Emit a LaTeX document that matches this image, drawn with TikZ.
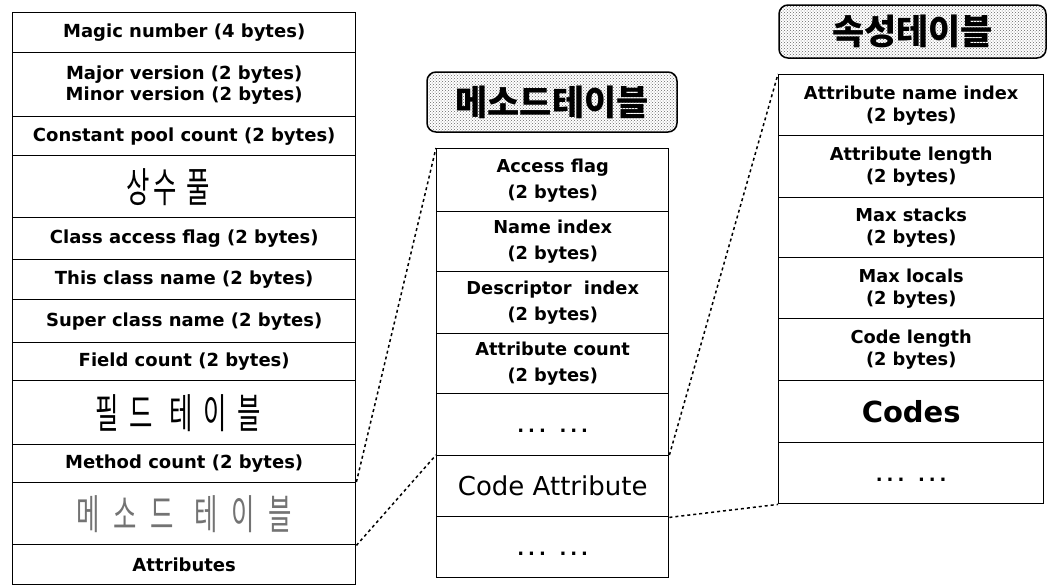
\documentclass[tikz,border=0pt]{standalone}
\usepackage{fontspec}
\setmainfont{DejaVu Sans}
\newfontfamily\kofont[FakeStretch=0.62,LetterSpace=8]{Noto Sans CJK KR}
\newfontfamily\kowide[FakeStretch=0.62,LetterSpace=26]{Noto Sans CJK KR}
\newfontfamily\kowider[FakeStretch=0.62,LetterSpace=34]{Noto Sans CJK KR}
\newfontfamily\kotitle{Noto Sans CJK KR}
\newfontfamily\dotsfont[LetterSpace=22]{DejaVu Sans}
\usetikzlibrary{patterns}

\tikzset{
  cell/.style={draw=black, line width=1.4pt, anchor=north west, inner sep=0pt,
    align=center, font=\fontsize{18}{21}\selectfont\bfseries},
  leftcell/.style={cell, minimum width=343pt},
  midcell/.style={cell, minimum width=232pt, font=\fontsize{17.8}{26}\selectfont\bfseries},
  rightcell/.style={cell, minimum width=265pt, font=\fontsize{17.8}{22}\selectfont\bfseries},
  korow/.style={font=\kowide\fontsize{41}{44}\selectfont},
  dotrow/.style={font=\dotsfont\bfseries\fontsize{18}{20}\selectfont,
    text height=16pt, text depth=0pt},
  titlebox/.style={draw=black, line width=1.5pt, rounded corners=9pt,
    pattern=crosshatch dots, pattern color=black!60, inner sep=0pt,
    font=\kotitle\bfseries\fontsize{35}{38}\selectfont},
  zoomline/.style={line width=1.5pt, dash pattern=on 3pt off 3pt},
}

\begin{document}
\begin{tikzpicture}[x=1pt,y=-1pt]
\useasboundingbox (0,0) rectangle (1049,587);

% class file layout
\node[leftcell, minimum height=40pt] (l1) at (12,12) {Magic number (4 bytes)};
\node[leftcell, minimum height=64pt] (l2) at (12,52) {Major version (2 bytes)\\Minor version (2 bytes)};
\node[leftcell, minimum height=39pt] (l3) at (12,116) {Constant pool count (2 bytes)};
\node[leftcell, minimum height=62pt, font=\kofont\fontsize{41}{44}\selectfont] (l4) at (12,155) {상수 풀\hspace*{32pt}};
\node[leftcell, minimum height=42pt] (l5) at (12,217) {Class access flag (2 bytes)};
\node[leftcell, minimum height=40pt] (l6) at (12,259) {This class name (2 bytes)};
\node[leftcell, minimum height=43pt] (l7) at (12,299) {Super class name (2 bytes)};
\node[leftcell, minimum height=38pt] (l8) at (12,342) {Field count (2 bytes)};
\node[leftcell, minimum height=64pt, korow] (l9) at (12,380) {필드 테이블\hspace*{12pt}};
\node[leftcell, minimum height=38pt] (l10) at (12,444) {Method count (2 bytes)};
\node[leftcell, minimum height=62pt, font=\kowider\fontsize{41}{44}\selectfont, text=black!55] (l11) at (12,482) {메소드 테이블};
\node[leftcell, minimum height=40pt] (l12) at (12,544) {Attributes};

% method table
\node[titlebox, minimum width=250pt, minimum height=60pt] (mt) at (552,102) {메소드테이블};
\node[midcell, minimum height=63pt] (m1) at (436,148) {Access flag\\(2 bytes)};
\node[midcell, minimum height=60pt] (m2) at (436,211) {Name index\\(2 bytes)};
\node[midcell, minimum height=62pt] (m3) at (436,271) {Descriptor\ \ index\\(2 bytes)};
\node[midcell, minimum height=60pt] (m4) at (436,333) {Attribute count\\(2 bytes)};
\node[midcell, minimum height=62pt, dotrow] (m5) at (436,393) {... ...};
\node[midcell, minimum height=61pt, font=\fontsize{26}{30}\selectfont] (m6) at (436,455) {Code Attribute};
\node[midcell, minimum height=61pt, dotrow] (m7) at (436,516) {... ...};

% attribute table
\node[titlebox, minimum width=267pt, minimum height=53pt] (at) at (912.5,31.5) {속성테이블};
\node[rightcell, minimum height=61pt] (r1) at (778,74) {Attribute name index\\(2 bytes)};
\node[rightcell, minimum height=62pt] (r2) at (778,135) {Attribute length\\(2 bytes)};
\node[rightcell, minimum height=60pt] (r3) at (778,197) {Max stacks\\(2 bytes)};
\node[rightcell, minimum height=61pt] (r4) at (778,257) {Max locals\\(2 bytes)};
\node[rightcell, minimum height=62pt] (r5) at (778,318) {Code length\\(2 bytes)};
\node[rightcell, minimum height=62pt, font=\fontsize{29}{34}\selectfont\bfseries] (r6) at (778,380) {Codes};
\node[rightcell, minimum height=61pt, dotrow] (r7) at (778,442) {... ...};

% expansion guides
\draw[zoomline] (l11.north east) -- (m1.north west);
\draw[zoomline] (l11.south east) -- (m6.north west);
\draw[zoomline] (m6.north east) -- (r1.north west);
\draw[zoomline] (m6.south east) -- (r7.south west);
\end{tikzpicture}
\end{document}
